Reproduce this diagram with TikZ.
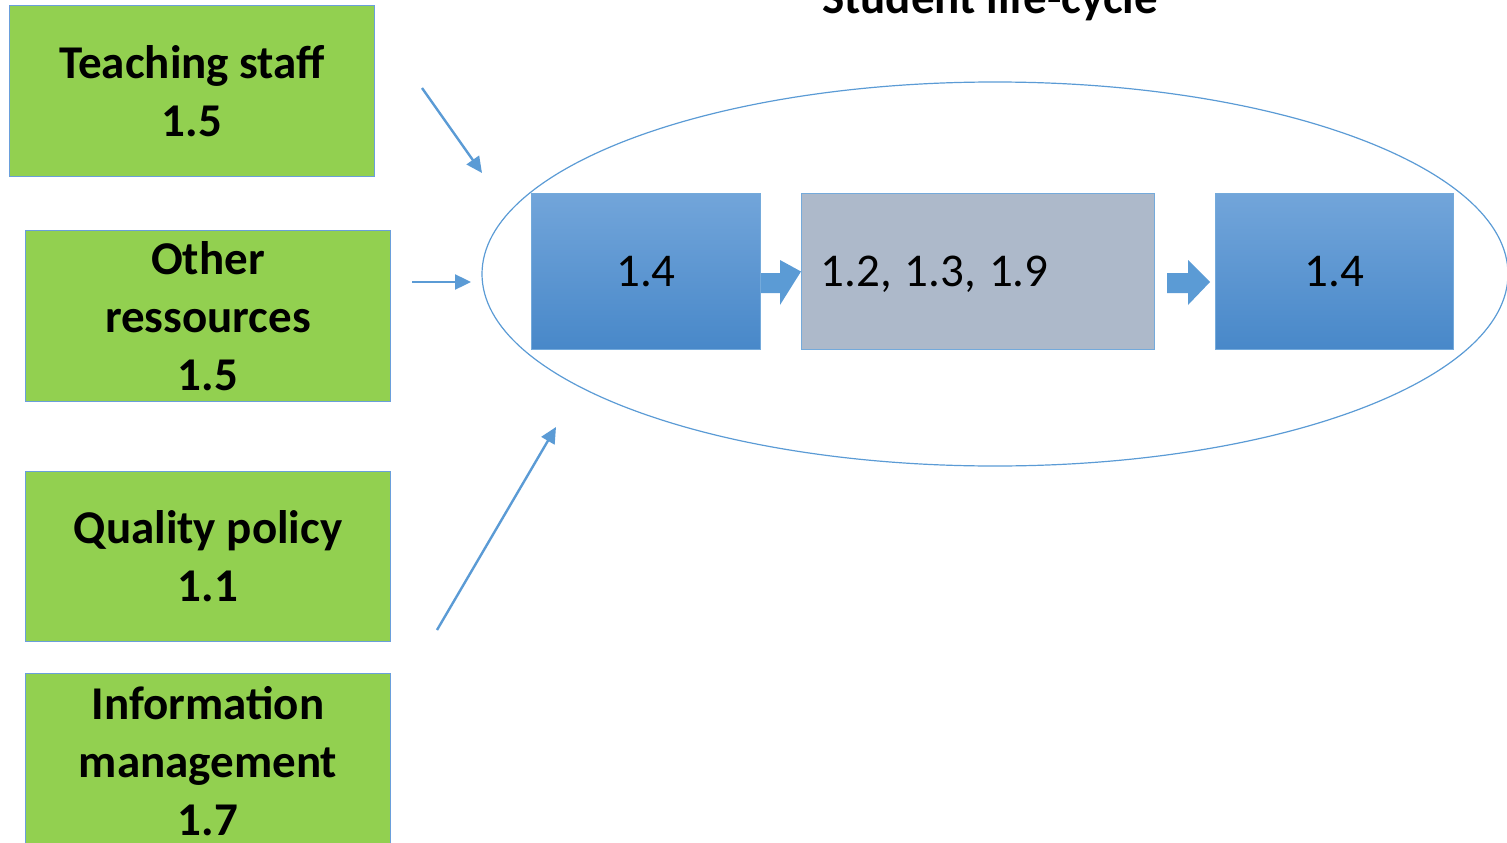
\documentclass[tikz,border=0pt]{standalone}
\usepackage{fontspec}
\setmainfont{Carlito}
\usetikzlibrary{arrows.meta,calc,shapes.geometric}
\definecolor{accent}{HTML}{5B9BD5}
\definecolor{leaf}{HTML}{92D050}
\definecolor{greybox}{HTML}{ADB9CA}
\definecolor{bluetop}{HTML}{72A5DA}
\definecolor{bluebot}{HTML}{4888C9}
\definecolor{frame}{HTML}{6A9FDB}
\tikzset{
  topic/.style={draw=frame, line width=1pt, fill=leaf, minimum width=365pt,
    minimum height=171pt, inner sep=0pt, align=center, anchor=north west,
    font=\fontsize{47}{58}\selectfont\bfseries},
  stage/.style={draw=accent!85, line width=1pt, top color=bluetop, bottom color=bluebot,
    minimum height=156pt, inner sep=0pt, anchor=north west,
    font=\fontsize{47}{56}\selectfont},
  feed/.style={draw=accent, line width=2.4pt, -{Triangle[length=16pt,width=15pt]}},
  blockarrow/.style={fill=accent, draw=none}
}
\begin{document}
\frenchspacing
\begin{tikzpicture}[x=1pt,y=-1pt]
\useasboundingbox (0,0) rectangle (1507,843);

% title, partly above the page edge
\node[anchor=base, font=\fontsize{47}{56}\selectfont\bfseries] (title) at (990,14) {Student life-cycle};

% the life-cycle ellipse
\node[draw=accent, line width=1.2pt, ellipse, minimum width=1026pt, minimum height=384pt,
  inner sep=0pt] (cycle) at (995,274) {};

% input topics
\node[topic] (staff) at (9,5) {Teaching staff\\1.5};
\node[topic] (res) at (25,230) {Other\\ressources\\1.5};
\node[topic, minimum height=170pt] (qual) at (25,471) {Quality policy\\1.1};
\node[topic, minimum height=176pt] (info) at (25,673) {Information\\management\\1.7};

% life-cycle stages
\node[stage, minimum width=229pt] (s1) at (531,193) {1.4};
\node[stage, minimum width=353pt, fill=greybox, top color=greybox, bottom color=greybox,
  text width=315pt, align=left, inner xsep=19pt, text depth=0pt] (s2) at (801,193)
  {1.2,\hspace{13pt}1.3,\hspace{13pt}1.9};
\node[stage, minimum width=238pt] (s3) at (1215,193) {1.4};

% block arrows between the stages
\fill[blockarrow] (s1.east |- 0,273) -- (780,273) -- (780,260) -- (s2.west) -- (780,305)
  -- (780,293) -- (s1.east |- 0,293) -- cycle;
\fill[blockarrow] (1167,273) -- (1188,273) -- (1188,260) -- (1210,282) -- (1188,305)
  -- (1188,293) -- (1167,293) -- cycle;

% arrows feeding the cycle
\coordinate (f1a) at (422,88);  \coordinate (f1b) at (482,173);
\coordinate (f2a) at (412,282); \coordinate (f2b) at (471,282);
\coordinate (f3a) at (437,630); \coordinate (f3b) at (556,427);
\draw[feed] (f1a) -- (f1b);
\draw[feed] (f2a) -- (f2b);
\draw[feed] (f3a) -- (f3b);
\end{tikzpicture}
\end{document}
